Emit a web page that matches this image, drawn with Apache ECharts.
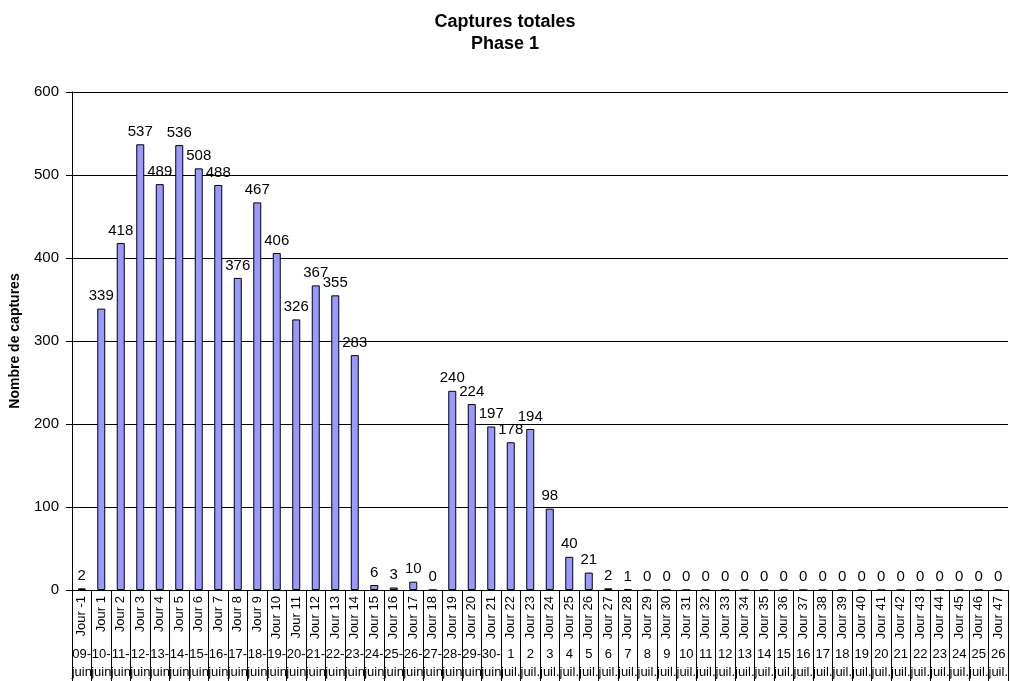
<!DOCTYPE html>
<html>
<head>
<meta charset="utf-8">
<script src="https://cdn.jsdelivr.net/npm/echarts@6/dist/echarts.min.js"></script>
<style>
  html, body { margin: 0; padding: 0; background: #fff; }
  #chart { width: 1010px; height: 681px; }
</style>
</head>
<body>
<div id="chart"></div>
<script>
// jours de capture
const jours = ['Jour -1', 'Jour 1', 'Jour 2', 'Jour 3', 'Jour 4', 'Jour 5', 'Jour 6', 'Jour 7', 'Jour 8', 'Jour 9',
  'Jour 10', 'Jour 11', 'Jour 12', 'Jour 13', 'Jour 14', 'Jour 15', 'Jour 16', 'Jour 17', 'Jour 18', 'Jour 19',
  'Jour 20', 'Jour 21', 'Jour 22', 'Jour 23', 'Jour 24', 'Jour 25', 'Jour 26', 'Jour 27', 'Jour 28', 'Jour 29',
  'Jour 30', 'Jour 31', 'Jour 32', 'Jour 33', 'Jour 34', 'Jour 35', 'Jour 36', 'Jour 37', 'Jour 38', 'Jour 39',
  'Jour 40', 'Jour 41', 'Jour 42', 'Jour 43', 'Jour 44', 'Jour 45', 'Jour 46', 'Jour 47'];
// dates (2e niveau de l'axe)
const dates = ['09-\njuin', '10-\njuin', '11-\njuin', '12-\njuin', '13-\njuin', '14-\njuin', '15-\njuin', '16-\njuin',
  '17-\njuin', '18-\njuin', '19-\njuin', '20-\njuin', '21-\njuin', '22-\njuin', '23-\njuin', '24-\njuin', '25-\njuin',
  '26-\njuin', '27-\njuin', '28-\njuin', '29-\njuin', '30-\njuin',
  '1\njuil.', '2\njuil.', '3\njuil.', '4\njuil.', '5\njuil.', '6\njuil.', '7\njuil.', '8\njuil.', '9\njuil.',
  '10\njuil.', '11\njuil.', '12\njuil.', '13\njuil.', '14\njuil.', '15\njuil.', '16\njuil.', '17\njuil.',
  '18\njuil.', '19\njuil.', '20\njuil.', '21\njuil.', '22\njuil.', '23\njuil.', '24\njuil.', '25\njuil.', '26\njuil.'];
// captures totales
const captures = [2, 339, 418, 537, 489, 536, 508, 488, 376, 467, 406, 326, 367, 355, 283, 6, 3, 10, 0,
  240, 224, 197, 178, 194, 98, 40, 21, 2, 1, 0, 0, 0, 0, 0, 0, 0, 0, 0, 0, 0, 0, 0, 0, 0, 0, 0, 0, 0];
const yTicks = [0, 100, 200, 300, 400, 500, 600];

const font = 'Liberation Sans, Arial, sans-serif';
const chart = echarts.init(document.getElementById('chart'));

chart.setOption({
  animation: false,
  backgroundColor: '#fff',
  title: {
    text: 'Captures totales\nPhase 1',
    left: 'center',
    top: 6,
    textStyle: { fontFamily: font, fontSize: 18, fontWeight: 'bold', color: '#000', lineHeight: 22 }
  },
  grid: { left: 72, right: 2, top: 92, bottom: 91, outerBoundsMode: 'none', containLabel: false },
  xAxis: [
    {
      type: 'category',
      data: jours,
      axisLine: { lineStyle: { color: '#000', width: 1 } },
      axisTick: { show: true, interval: 0, length: 95, lineStyle: { color: '#000' } },
      axisLabel: {
        interval: 0, rotate: 90, margin: 6,
        fontFamily: font, fontSize: 13, color: '#000'
      }
    },
    {
      type: 'category',
      data: dates,
      position: 'bottom',
      offset: 55,
      axisLine: { show: false },
      axisTick: { show: false },
      axisLabel: {
        interval: 0, margin: 0,
        fontFamily: font, fontSize: 13, color: '#000', lineHeight: 18
      }
    }
  ],
  yAxis: {
    type: 'value',
    min: yTicks[0],
    max: yTicks[yTicks.length - 1],
    interval: 100,
    name: 'Nombre de captures',
    nameLocation: 'middle',
    nameGap: 50,
    nameTextStyle: { fontFamily: font, fontSize: 14, fontWeight: 'bold', color: '#000' },
    axisLine: { show: true, lineStyle: { color: '#000' } },
    axisTick: { show: true, length: 6, lineStyle: { color: '#000' } },
    axisLabel: { fontFamily: font, fontSize: 15, color: '#000', margin: 13 },
    splitLine: { lineStyle: { color: '#000', width: 1 } }
  },
  series: [{
    type: 'bar',
    xAxisIndex: 0,
    data: captures,
    barWidth: 8,
    itemStyle: { color: '#9999ff', borderColor: '#000', borderWidth: 1 },
    label: {
      show: true, position: 'top', distance: 5,
      fontFamily: font, fontSize: 15, color: '#000'
    }
  }]
});
</script>
</body>
</html>
